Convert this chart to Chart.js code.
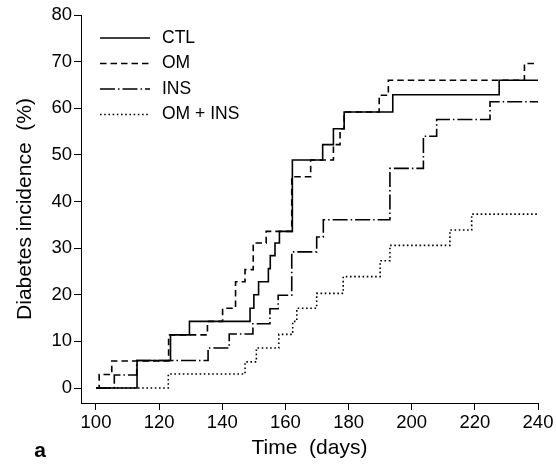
<!DOCTYPE html>
<html>
<head>
<meta charset="utf-8">
<script src="https://cdn.jsdelivr.net/npm/chart.js@4.4.1/dist/chart.umd.min.js"></script>
<style>
  html, body { margin: 0; padding: 0; background: #fff; }
  #wrap { width: 556px; height: 464px; }
</style>
</head>
<body>
<div id="wrap"><canvas id="incidenceChart" width="556" height="464"></canvas></div>
<script>
// Cumulative diabetes incidence (%) per group: day of each step and level reached
const ctlDays = [100, 113, 123.6, 129.6, 148.8, 150, 151.5, 154.6, 155.2, 156.7, 158.1, 162.2, 171.8, 175.2, 178.6, 194, 227.7, 240];
const ctlPct  = [0, 5.9, 11.4, 14.3, 17.1, 20.0, 22.8, 25.6, 28.4, 31.1, 33.6, 48.9, 52.2, 55.6, 59.2, 62.9, 66.0, 66.0];

const omDays = [100, 101, 105, 123, 135.3, 140.1, 144.2, 147.2, 149.8, 153.9, 162, 168, 175.2, 177.3, 178.6, 189.7, 192.6, 235.7, 240];
const omPct  = [0, 2.9, 5.8, 11.4, 14.3, 17.1, 22.8, 25.4, 31.1, 33.6, 45.3, 48.9, 52.2, 55.6, 59.2, 62.8, 66.0, 69.6, 69.6];

const insDays = [100, 105.8, 112.9, 135.5, 142.2, 149.7, 155.1, 157.7, 162, 169.9, 172, 193.1, 203.7, 207.9, 224.8, 240];
const insPct  = [0, 2.8, 5.9, 8.6, 11.6, 13.8, 17.0, 19.9, 29.2, 32.4, 36.1, 47.1, 54.0, 57.6, 61.4, 61.4];

const omInsDays = [100, 122.9, 147.2, 150.8, 157.9, 162.3, 163.6, 169.9, 178.3, 190, 193.1, 212.1, 219, 240];
const omInsPct  = [0, 3.0, 5.6, 8.6, 11.5, 14.3, 17.1, 20.3, 23.9, 27.3, 30.6, 33.9, 37.3, 37.3];

const groupLabels = ['CTL', 'OM', 'INS', 'OM + INS'];
const xTicks = [100, 120, 140, 160, 180, 200, 220, 240];
const yTicks = [0, 10, 20, 30, 40, 50, 60, 70, 80];

const FONT = '"Liberation Sans", Arial, Helvetica, sans-serif';

function toPoints(days, pct) {
    return days.map((d, i) => ({ x: d, y: pct[i] }));
}

function stepLine(label, days, pct, dash) {
    return {
        label: label,
        data: toPoints(days, pct),
        borderColor: '#000',
        borderWidth: 1.6,
        borderDash: dash,
        borderCapStyle: 'butt',
        stepped: 'before',
        fill: false,
        pointRadius: 0
    };
}

// Legend drawn inside the plot area, top left
const insetLegend = {
    id: 'insetLegend',
    afterDatasetsDraw(chart) {
        const { ctx, chartArea } = chart;
        ctx.save();
        chart.data.datasets.forEach((ds, i) => {
            const x = chartArea.left + 19;
            const y = chartArea.top + 23 + i * 25.5;
            ctx.beginPath();
            ctx.setLineDash(ds.borderDash || []);
            ctx.lineWidth = ds.borderWidth;
            ctx.strokeStyle = ds.borderColor;
            ctx.lineCap = 'butt';
            ctx.moveTo(x, y);
            ctx.lineTo(x + 50, y);
            ctx.stroke();
            ctx.setLineDash([]);
            ctx.fillStyle = '#000';
            ctx.font = '17.5px ' + FONT;
            ctx.textAlign = 'left';
            ctx.textBaseline = 'middle';
            ctx.fillText(ds.label, x + 62, y);
        });
        ctx.restore();
    }
};

// Panel letter
const panelTag = {
    id: 'panelTag',
    afterDraw(chart) {
        const ctx = chart.ctx;
        ctx.save();
        ctx.fillStyle = '#000';
        ctx.font = 'bold 21px ' + FONT;
        ctx.textAlign = 'center';
        ctx.textBaseline = 'middle';
        ctx.fillText('a', 40, 451);
        ctx.restore();
    }
};

const axisStyle = {
    grid: { display: true, drawOnChartArea: false, drawTicks: true, tickLength: 7, color: '#000', lineWidth: 1 },
    border: { display: true, color: '#000', width: 1 }
};

new Chart(document.getElementById('incidenceChart').getContext('2d'), {
    type: 'line',
    data: {
        datasets: [
            stepLine(groupLabels[0], ctlDays, ctlPct, []),
            stepLine(groupLabels[1], omDays, omPct, [6.5, 4]),
            stepLine(groupLabels[2], insDays, insPct, [15, 3, 1.5, 3]),
            stepLine(groupLabels[3], omInsDays, omInsPct, [1.6, 2.6])
        ]
    },
    options: {
        responsive: false,
        animation: false,
        devicePixelRatio: 1,
        layout: { padding: { top: 15, right: 18, left: 0, bottom: 0 } },
        plugins: {
            legend: { display: false },
            tooltip: { enabled: false }
        },
        scales: {
            x: {
                type: 'linear',
                min: 95.25,
                max: 240,
                afterBuildTicks: axis => { axis.ticks = xTicks.map(v => ({ value: v })); },
                afterFit: axis => { axis.height = 61; },
                grid: axisStyle.grid,
                border: axisStyle.border,
                ticks: { color: '#000', font: { family: FONT, size: 18.5 }, padding: 2, maxRotation: 0, autoSkip: false },
                title: { display: true, text: 'Time  (days)', color: '#000', font: { family: FONT, size: 21 }, padding: { top: 0, bottom: 3.5 } }
            },
            y: {
                type: 'linear',
                min: -3.21,
                max: 80,
                afterBuildTicks: axis => { axis.ticks = yTicks.map(v => ({ value: v })); },
                afterFit: axis => { axis.width = 81; },
                grid: axisStyle.grid,
                border: axisStyle.border,
                ticks: { color: '#000', font: { family: FONT, size: 18.5 }, padding: 2, autoSkip: false },
                title: { display: true, text: 'Diabetes incidence  (%)', color: '#000', font: { family: FONT, size: 21 }, padding: { top: 12.4, bottom: 0 } }
            }
        }
    },
    plugins: [insetLegend, panelTag]
});
</script>
</body>
</html>
